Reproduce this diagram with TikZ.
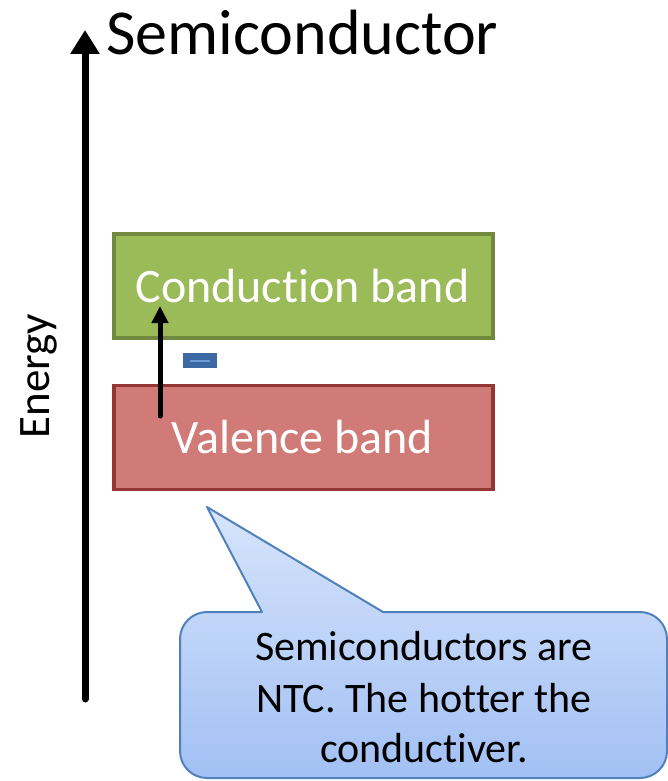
\documentclass[tikz,border=0pt]{standalone}
\usepackage{fontspec}
\setmainfont[Ligatures={NoCommon}]{Carlito}
\usetikzlibrary{arrows.meta}

\definecolor{cbfill}{HTML}{9BBB59}
\definecolor{cbline}{HTML}{71893F}
\definecolor{vbfill}{HTML}{D07B77}
\definecolor{vbline}{HTML}{943634}
\definecolor{minusfill}{HTML}{3C68A3}
\definecolor{minusline}{HTML}{6F9BD6}
\definecolor{calltop}{HTML}{D7E4FB}
\definecolor{callbot}{HTML}{A2C0F4}
\definecolor{callline}{HTML}{4F81BD}

\tikzset{
  band/.style={draw, line width=3.5pt, minimum width=379pt, minimum height=104pt, inner sep=0pt},
  bandtext/.style={text=white, font=\fontsize{48}{58}\selectfont, inner sep=0pt, anchor=base},
  axis/.style={line width=7pt, line cap=round, -{Triangle[width=28pt,length=24pt]}},
  excite/.style={line width=5pt, line cap=round, -{Triangle[width=16pt,length=17pt]}},
  notetext/.style={anchor=base, inner sep=0pt, font=\fontsize{42}{51}\selectfont},
}

\begin{document}
\begin{tikzpicture}[x=1pt, y=-1pt]
  \useasboundingbox (0,0) rectangle (668,781);

  % energy axis
  \coordinate (ebot) at (85,699);
  \coordinate (etop) at (85,30);
  \draw[axis] (ebot) -- (etop);
  \node (energy) [rotate=90, font=\fontsize{45}{54}\selectfont, inner sep=0pt] at (39,376) {Energy};

  % title
  \node (title) [anchor=base west, inner sep=0pt, font=\fontsize{64}{76}\selectfont] at (106,55) {Semiconductor};

  % bands
  \node (cb) [band, fill=cbfill, draw=cbline] at (303.5,286) {};
  \node (cbt) [bandtext] at (302.5,302) {Conduction band};
  \node (vb) [band, fill=vbfill, draw=vbline] at (303.5,437.5) {};
  \node (vbt) [bandtext] at (302.5,453) {Valence band};

  % electron marker
  \node (minus) [fill=minusfill, minimum width=34pt, minimum height=15pt, inner sep=0pt] at (200,360.5) {};
  \draw[minusline, line width=2pt] ([xshift=7pt]minus.west) -- ([xshift=-7pt]minus.east);

  % excitation arrow
  \coordinate (x0) at (160,416);
  \coordinate (x1) at (160,306);
  \draw[excite] (x0) -- (x1);

  % callout
  \shade[top color=calltop, bottom color=callbot, draw=callline, line width=2pt, line join=round]
    (262,612) -- (207,507) -- (383,612) -- (640,612)
    arc[start angle=-90, end angle=0, radius=27] -- (667,751)
    arc[start angle=0, end angle=90, radius=27] -- (207,778)
    arc[start angle=90, end angle=180, radius=27] -- (180,639)
    arc[start angle=180, end angle=270, radius=27] -- cycle;
  \node (note1) [notetext] at (424,660) {Semiconductors are};
  \node (note2) [notetext] at (424,712) {NTC. The hotter the};
  \node (note3) [notetext] at (424,762) {conductiver.};
\end{tikzpicture}
\end{document}
